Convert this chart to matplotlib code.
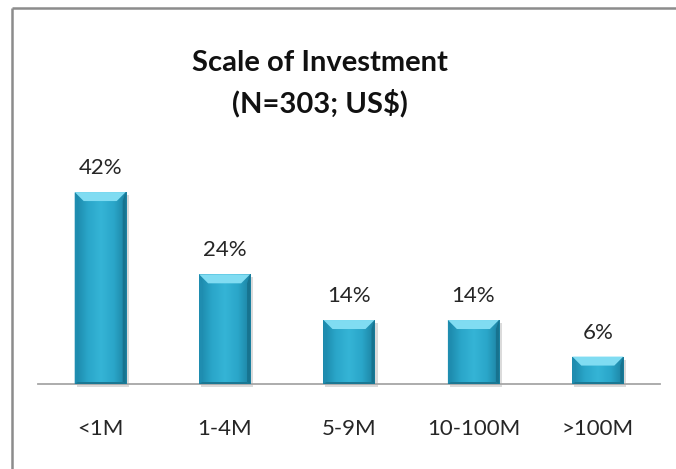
import numpy as np
import matplotlib
matplotlib.use("Agg")
import matplotlib.pyplot as plt
from matplotlib.patches import Polygon
from matplotlib.lines import Line2D
import matplotlib.colors as mcolors

categories = ["<1M", "1-4M", "5-9M", "10-100M", ">100M"]
shares = [42, 24, 14, 14, 6]
value_labels = ["42%", "24%", "14%", "14%", "6%"]

W, H = 676, 469
fig = plt.figure(figsize=(W / 100, H / 100), dpi=100)
fig.patch.set_facecolor("white")
fig.patch.set_linewidth(0)

base_y = 384
ymax = 50
px_per_unit = 4.57
top_y = base_y - ymax * px_per_unit
ax_left, ax_right = 38, 660
ax = fig.add_axes([ax_left / W, (H - base_y) / H, (ax_right - ax_left) / W, (base_y - top_y) / H])
ax.set_xlim(-0.5, len(categories) - 0.5)
ax.set_ylim(0, ymax)
ax.set_facecolor("none")
for s in ["top", "right", "left"]:
    ax.spines[s].set_visible(False)
ax.spines["bottom"].set_color("#a6a6a6")
ax.spines["bottom"].set_linewidth(1.3)
ax.set_yticks([])
ax.set_xticks(range(len(categories)))
ax.set_xticklabels(categories, fontsize=16, color="#262626", family="Lato")
ax.tick_params(axis="x", length=0, pad=25)

x = np.arange(len(categories))
bw = 0.41
bars = ax.bar(x, shares, width=bw, color="#2aa8cb", zorder=3)

# unit sizes of one pixel in data coordinates
dx = (len(categories)) / (ax_right - ax_left)
dy = ymax / (base_y - top_y)
bev = 9  # bevel size in pixels

grad_cmap = mcolors.LinearSegmentedColormap.from_list(
    "bar", ["#1b86a8", "#2aa6c9", "#35b4d6", "#2aa6c9", "#1b7f9f"])
grad = np.linspace(0, 1, 256).reshape(1, -1)

for rect, val, lab in zip(bars, shares, value_labels):
    x0 = rect.get_x()
    w = rect.get_width()
    h = rect.get_height()
    x1 = x0 + w
    # drop shadow
    ax.add_patch(Polygon([(x0 + 2 * dx, -3 * dy), (x1 + 3 * dx, -3 * dy),
                          (x1 + 3 * dx, h - 3 * dy), (x0 + 2 * dx, h - 3 * dy)],
                         closed=True, facecolor="#9a9a9a", alpha=0.35,
                         edgecolor="none", zorder=2, clip_on=False))
    # body gradient
    im = ax.imshow(grad, extent=(x0, x1, 0, h), aspect="auto", cmap=grad_cmap,
                   zorder=3.5, interpolation="bicubic")
    im.set_clip_path(rect)
    bx, by = bev * dx, bev * dy
    by = min(by, h / 3)
    # top bevel
    ax.add_patch(Polygon([(x0, h), (x1, h), (x1 - bx, h - by), (x0 + bx, h - by)],
                         closed=True, facecolor="#80dcf2", edgecolor="none", zorder=4))
    # side bevels
    ax.add_patch(Polygon([(x0, h), (x0 + 3 * dx, h - by), (x0 + 3 * dx, 2 * dy), (x0, 0)],
                         closed=True, facecolor="#1f8db0", edgecolor="none", zorder=4))
    ax.add_patch(Polygon([(x1, h), (x1 - 3 * dx, h - by), (x1 - 3 * dx, 2 * dy), (x1, 0)],
                         closed=True, facecolor="#17738f", edgecolor="none", zorder=4))
    # bottom bevel
    ax.add_patch(Polygon([(x0, 0), (x1, 0), (x1 - 3 * dx, 2 * dy), (x0 + 3 * dx, 2 * dy)],
                         closed=True, facecolor="#1a7894", edgecolor="none", zorder=4))
    ax.annotate(lab, (rect.get_x() + w / 2, h), xytext=(0, 13), textcoords="offset points",
                ha="center", va="baseline", fontsize=16, color="#262626", family="Lato")

fig.text(320 / W, 1 - 63 / H, "Scale of Investment", ha="center", va="center",
         fontsize=21, fontweight="bold", family="Lato", color="#111111")
fig.text(320 / W, 1 - 103 / H, "(N=303; US$)", ha="center", va="center",
         fontsize=21, fontweight="bold", family="Lato", color="#111111")

# chart frame (left and top edges)
fig.add_artist(Line2D([12 / W, 12 / W], [0, 1 - 8 / H], color="#8c8c8c", lw=1.8,
                      solid_capstyle="butt", transform=fig.transFigure))
fig.add_artist(Line2D([12 / W, 1.02], [1 - 8 / H, 1 - 8 / H], color="#8c8c8c", lw=1.8,
                      solid_capstyle="butt", transform=fig.transFigure))

fig.savefig("out.png", dpi=100)
